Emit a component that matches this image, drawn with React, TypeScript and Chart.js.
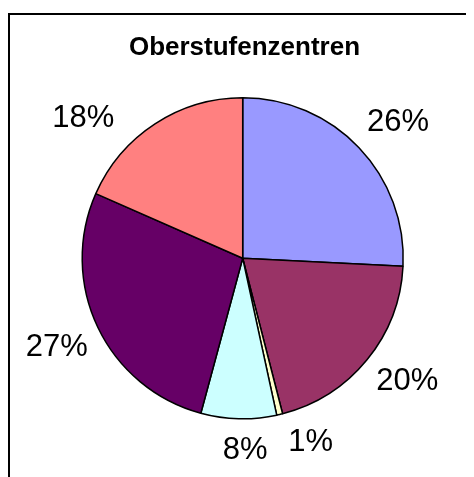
import React, { useEffect, useRef } from "react";
import { Chart, registerables } from "chart.js";

Chart.register(...registerables);

const title = "Oberstufenzentren";
const categories = ["A", "B", "C", "D", "E", "F"];
const values = [25.8, 20.2, 0.6, 7.6, 27.4, 18.4];
const colors = ["#9999FF", "#993366", "#FFFFCC", "#CCFFFF", "#660066", "#FF8080"];

// label placement tweaks (degrees of angular shift, px beyond the rim)
const labelAngleShift = [1.9, -3, -7.2, -2.2, 0.7, -15.2];
const labelDistance = [47.5, 43.5, 33.3, 29.2, 44.5, 53];

const labelPlugin = {
  id: "pieLabels",
  afterDatasetsDraw(chart: any) {
    const ctx = chart.ctx;
    const meta = chart.getDatasetMeta(0);
    const data = chart.data.datasets[0].data as number[];
    const total = data.reduce((a, b) => a + b, 0);
    ctx.save();
    ctx.fillStyle = "#000";
    ctx.font = "31px 'Liberation Sans', Arial, sans-serif";
    ctx.textAlign = "center";
    ctx.textBaseline = "alphabetic";
    meta.data.forEach((arc: any, i: number) => {
      const p = arc.getProps(["x", "y", "startAngle", "endAngle", "outerRadius"], true);
      const mid = (p.startAngle + p.endAngle) / 2 + (labelAngleShift[i] * Math.PI) / 180;
      const d = p.outerRadius + labelDistance[i];
      const cx = p.x + Math.cos(mid) * d;
      const cy = p.y + Math.sin(mid) * d;
      const txt = Math.round((data[i] / total) * 100) + "%";
      ctx.fillText(txt, cx, cy + 31 * 0.358);
    });
    // title
    ctx.font = "bold 26px 'Liberation Sans', Arial, sans-serif";
    ctx.fillText(title, chart.width / 2 + 2.5, 40);
    ctx.restore();
  },
};

export default function App() {
  const ref = useRef<HTMLCanvasElement>(null);
  useEffect(() => {
    if (!ref.current) return;
    const chart = new Chart(ref.current, {
      type: "pie",
      data: {
        labels: categories,
        datasets: [
          {
            data: values,
            backgroundColor: colors,
            borderColor: "#000",
            borderWidth: 1.5,
          },
        ],
      },
      options: {
        responsive: false,
        animation: false,
        radius: 160.5,
        layout: { padding: { left: 1.4, right: 0, top: 24.6, bottom: 0 } },
        plugins: {
          legend: { display: false },
          tooltip: { enabled: false },
          title: { display: false },
        },
      } as any,
      plugins: [labelPlugin],
    });
    return () => chart.destroy();
  }, []);
  return (
    <div
      style={{
        marginTop: 5,
        borderTop: "2px solid #000",
        borderLeft: "2px solid #000",
        width: 464,
        height: 462,
        overflow: "hidden",
        background: "#fff",
      }}
    >
      <canvas ref={ref} width={464} height={462} style={{ display: "block" }} />
    </div>
  );
}
